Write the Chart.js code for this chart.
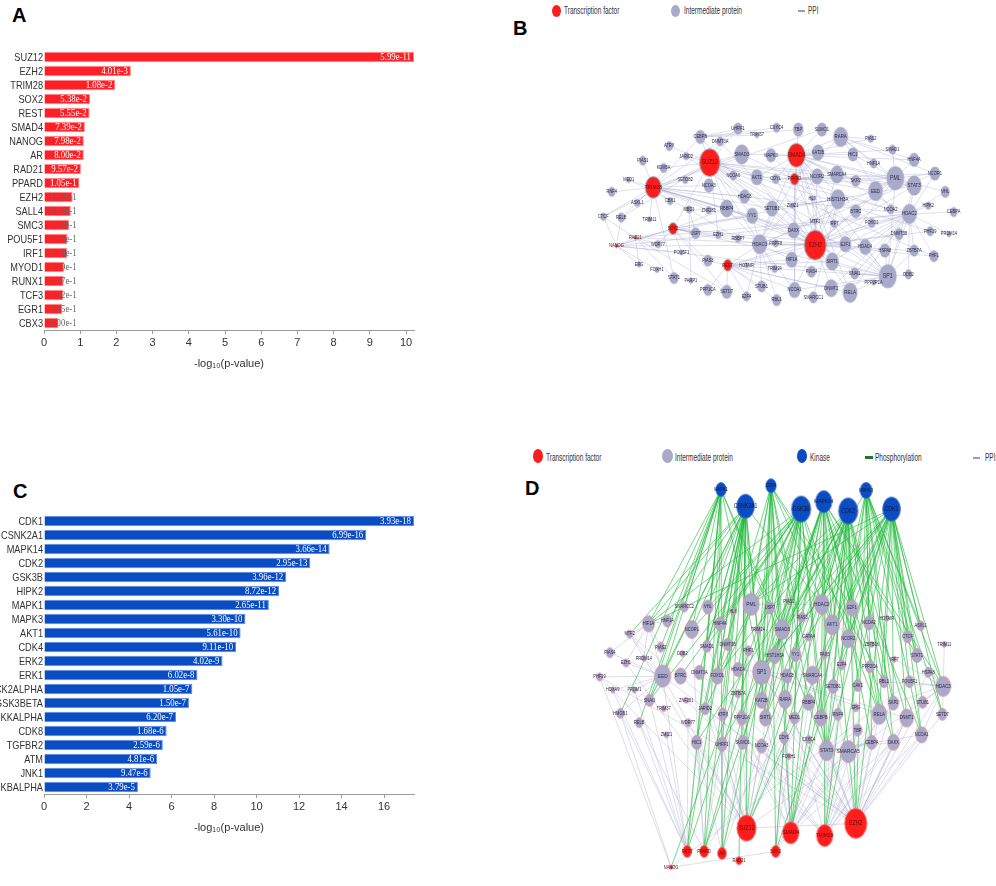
<!DOCTYPE html>
<html>
<head>
<meta charset="utf-8">
<script src="https://cdn.jsdelivr.net/npm/chart.js@4.4.0/dist/chart.umd.min.js"></script>
<style>
body{margin:0;background:#fff;width:996px;height:886px;position:relative;overflow:hidden;font-family:'Liberation Sans',Arial,sans-serif}
canvas{position:absolute}
.tag{position:absolute;font-weight:bold;font-size:20px;line-height:20px;color:#000}
.leg{position:absolute;font-size:10px;line-height:10px;color:#333;white-space:nowrap;transform:scaleX(0.65);transform-origin:left center}
.dot{position:absolute;border-radius:50%}
.dash{position:absolute;height:2px}
</style>
</head>
<body>
<div class="tag" style="left:12px;top:5px">A</div>
<div class="tag" style="left:513px;top:18px">B</div>
<div class="tag" style="left:13px;top:481px">C</div>
<div class="tag" style="left:525px;top:478px">D</div>

<div class="dot" style="left:552px;top:5px;width:9px;height:12px;background:#fe1d1d"></div>
<div class="leg" style="left:564px;top:6px">Transcription factor</div>
<div class="dot" style="left:671px;top:5px;width:9px;height:12px;background:#a9a9c9"></div>
<div class="leg" style="left:684px;top:6px">Intermediate protein</div>
<div class="dash" style="left:798px;top:10px;width:7px;background:#9a9ac0"></div>
<div class="leg" style="left:808px;top:6px">PPI</div>

<div class="dot" style="left:533px;top:449px;width:10px;height:14px;background:#fe1d1d"></div>
<div class="leg" style="left:546px;top:453px">Transcription factor</div>
<div class="dot" style="left:662px;top:449px;width:11px;height:14px;background:#a9a9c9"></div>
<div class="leg" style="left:675px;top:453px">Intermediate protein</div>
<div class="dot" style="left:797px;top:449px;width:10px;height:14px;background:#0b4cc0"></div>
<div class="leg" style="left:810px;top:453px">Kinase</div>
<div class="dash" style="left:865px;top:456px;width:8px;height:3px;background:#1a7a2a"></div>
<div class="leg" style="left:875px;top:453px">Phosphorylation</div>
<div class="dash" style="left:973px;top:457px;width:7px;background:#9a9ac0"></div>
<div class="leg" style="left:985px;top:453px">PPI</div>

<canvas id="chartA" width="440" height="335" style="left:0;top:40px"></canvas>
<canvas id="chartC" width="440" height="339" style="left:0;top:500px"></canvas>
<canvas id="netB" width="516" height="360" style="left:480px;top:0"></canvas>
<canvas id="netD" width="516" height="446" style="left:480px;top:440px"></canvas>

<script>
// ---- panel A: transcription factors ----
const tfNames = ["SUZ12","EZH2","TRIM28","SOX2","REST","SMAD4","NANOG","AR","RAD21","PPARD",
  "EZH2","SALL4","SMC3","POU5F1","IRF1","MYOD1","RUNX1","TCF3","EGR1","CBX3"];
const tfValues = [10.22,2.40,1.97,1.27,1.26,1.13,1.10,1.10,1.02,0.98,
  0.79,0.74,0.69,0.65,0.64,0.55,0.54,0.53,0.50,0.40];
const tfPvalues = ["5.99e-11","4.01e-3","1.08e-2","5.38e-2","5.55e-2","7.39e-2","7.98e-2","8.00e-2","9.57e-2","1.05e-1",
  "1.62e-1","1.83e-1","2.02e-1","2.25e-1","2.28e-1","2.79e-1","2.87e-1","2.92e-1","3.15e-1","4.00e-1"];

// ---- panel C: kinases ----
const kinNames = ["CDK1","CSNK2A1","MAPK14","CDK2","GSK3B","HIPK2","MAPK1","MAPK3","AKT1","CDK4",
  "ERK2","ERK1","CK2ALPHA","GSK3BETA","IKKALPHA","CDK8","TGFBR2","ATM","JNK1","IKBALPHA"];
const kinValues = [17.41,15.16,13.44,12.53,11.40,11.06,10.58,9.48,9.25,9.04,
  8.40,7.22,6.98,6.82,6.21,5.77,5.59,5.32,5.02,4.42];
const kinPvalues = ["3.93e-18","6.99e-16","3.66e-14","2.95e-13","3.96e-12","8.72e-12","2.65e-11","3.30e-10","5.61e-10","9.11e-10",
  "4.02e-9","6.02e-8","1.05e-7","1.50e-7","6.20e-7","1.68e-6","2.59e-6","4.81e-6","9.47e-6","3.79e-5"];

// ---- panel B: network nodes "name x y r" (x,y in figure pixels) ----
const bNodes = [
  "CEBPB 698 133 7","DNMT3A 719 138 5","ATRX 665 143 5","JARID2 683 154 4","SUZ12 708 161 14",
  "PIAS1 637 159 5","KDM5A 659 167 5","MED1 622 180 3","SETDB2 682 180 4","NCOA3 707 186 7",
  "TRIM28 648 188 11","RNF4 604 193 5","NCOA6 733 175 5","UHRF1 738 124 6","TRIM37 758 131 3",
  "CXXC4 779 123 5","TBP 802 125 7","SUMO1 827 125 7","RARA 847 133 10","PIAS2 879 135 4",
  "SMAD1 902 147 5","SMAD3 742 152 10","MAPK3 773 153 7","SMAD4 800 153 12","KAT2B 823 150 8",
  "HIC1 860 152 7","HNF4A 925 158 7","HNF1A 882 162 5","AKT1 758 177 8","CDYL 778 179 5",
  "PPARD 798 179 6","NCOR2 822 176 8","SMARCA4 843 174 9","SKP2 863 181 6","PML 905 178 12",
  "STAT3 925 186 10","NCOR1 947 173 7","EED 884 192 10","VHL 958 193 6","HDAC8 745 198 7",
  "ASXL1 631 205 4","CBX1 666 203 4","RBBP4 726 211 9","YY1 753 219 8","CTCF 595 220 4",
  "RELB 614 221 5","TRIM11 644 223 3","MBD1 686 212 4","ZNF281 707 213 4","SOX2 669 233 6",
  "USP7 693 238 6","EZH1 717 240 4","RBBP7 738 244 4","RAD21 629 243 2","NANOG 609 252 2",
  "WDR77 653 250 4","POU5F1 678 259 3","PIAS3 706 268 6","REST 727 273 6","HOTAIR 747 273 3",
  "ERG 633 272 3","FOXH1 652 278 3","STAT1 670 287 6","PARP1 688 290 3","PPP1CA 706 300 6",
  "SETD7 726 302 7","E2F4 747 307 5","SETDB1 774 211 8","ZMIZ1 796 208 3","HLX 817 200 3",
  "HIST1H3A 844 201 10","BTRC 863 214 7","NCOA2 900 212 5","HDAC2 920 217 10","HIPK2 940 208 4",
  "CEBPA 967 215 5","MTF2 820 225 3","IRF7 840 228 4","FOXO1 880 227 5","DAXX 797 235 8",
  "DNMT3B 909 239 6","PHF19 942 236 5","PRDM14 962 239 3","HDAC3 761 250 10","PRPF8 778 249 4",
  "EZH2 820 251 15","E2F1 852 250 8","HDAC4 873 253 8","HSPA8 894 257 7","ZBTB7A 925 257 6",
  "PHF1 946 263 6","HIF1A 795 267 8","TRIM24 777 277 4","SIRT1 838 269 9","PIAS4 816 280 6",
  "SNAI1 862 282 6","SP1 897 285 12","DDB2 919 283 5","PPP2R1A 882 292 3","STUB1 763 296 6",
  "NCOA1 798 300 8","DNMT1 837 298 9","RELA 857 303 10","RBL1 779 311 6","SMARCC1 818 308 6"
];
const bTFs = ["SUZ12","TRIM28","SMAD4","PPARD","EZH2","SOX2","REST","RAD21","NANOG"];
const bPPI = [
  "EZH2|SUZ12 EED HDAC2 HDAC3 DNMT1 DNMT3B DNMT3A YY1 SIRT1 E2F1 HDAC4 RBBP4 SETDB1 DAXX HIF1A STAT3 PML SP1 RELA NCOA1 MTF2 PHF1 PHF19 JARID2 HLX SMARCA4 AKT1 CDYL NCOR2 EZH1 HIST1H3A FOXO1 ZBTB7A BTRC",
  "SUZ12|EED EZH1 JARID2 RBBP4 YY1 HDAC3 CEBPB DNMT3A NCOA3 KDM5A ATRX MTF2 PHF19 PHF1 SMAD3 UHRF1 HDAC8 SETDB1 AKT1 CTCF RELB PML HDAC2 SP1 STAT3",
  "SMAD4|SMAD3 SMAD1 KAT2B MAPK3 TBP SUMO1 RARA HIC1 SKP2 NCOR2 SMARCA4 AKT1 CDYL E2F1 SP1 HDAC3 HDAC2 PML STAT3 RELA DAXX NCOA1 SIRT1 EZH2 PIAS2 HNF4A FOXO1",
  "TRIM28|SETDB2 SETDB1 KDM5A CBX1 RNF4 MED1 NCOA3 ZNF281 RBBP4 HDAC8 TRIM11 ASXL1 SUMO1 PIAS1 CEBPB UHRF1 SMAD3 E2F1 HDAC2 EZH2 DAXX STAT1 RELB CTCF YY1",
  "SOX2|POU5F1 NANOG WDR77 USP7 EZH1 SETD7 PIAS3 STAT3 HDAC3 RBBP4 YY1 SUZ12 SP1 E2F1",
  "REST|HOTAIR PIAS3 SETD7 PPP1CA E2F4 STUB1 RBL1 HDAC3 HDAC2 SIRT1 DNMT1 NCOA1 EZH2 RELA SP1 HIF1A",
  "PPARD|NCOR2 NCOR1 SMARCA4 KAT2B AKT1 CDYL MAPK3 SMAD3 RARA HDAC3 SIRT1 PML SP1 STAT3 NCOA2 NCOA1",
  "NANOG|POU5F1 RAD21 ERG FOXH1 RELB CTCF SOX2 EZH2 SP1 HDAC2",
  "RAD21|CTCF STAT1 SETD7 ERG WDR77 YY1 EZH2 HDAC2",
  "HDAC2|SP1 RELA SIRT1 DNMT1 E2F1 NCOR1 STAT3 HDAC4 FOXO1 ZBTB7A PHF1 DDB2 SNAI1 VHL CEBPA HIPK2 PRDM14",
  "PML|SP1 STAT3 NCOR1 VHL HNF4A SMAD1 SKP2 EED HIC1 RARA SIRT1 DAXX",
  "SP1|RELA DNMT1 SIRT1 SNAI1 HDAC4 PPP2R1A HSPA8 DDB2 ZBTB7A E2F1 STAT3 NCOA1",
  "HDAC3|NCOR2 NCOR1 YY1 RBBP4 DAXX HIF1A STUB1 TRIM24 PRPF8 E2F4 RBL1 SETDB1 NCOA1",
  "CEBPB|TBP UHRF1 CXXC4 TRIM37 NCOA6",
  "RARA|NCOR1 HNF4A NCOA2 PIAS2 HNF1A",
  "HIST1H3A|DAXX SETDB1 ZMIZ1 MTF2 IRF7 SMARCC1",
  "MBD1|ZNF281 RBBP7 MED1 USP7 PARP1"
];

// ---- panel D: network nodes "name x y r" ----
const dNodes = [
  "MAPK1 720 477 7","CSNK2A1 746 495 12","CDK4 773 473 7","GSK3B 805 498 13","MAPK14 829 490 11",
  "CDK2 855 500 13","MAPK3 874 478 8","CDK1 901 498 12",
  "SMARCC2 681 603 5","VHL 706 603 7","HLX 733 608 3","PML 752 600 11","USP7 772 604 6",
  "PIAS1 792 597 3","HDAC2 827 600 10","E2F1 859 604 8","HIF1A 643 621 8","HNF1A 663 618 6",
  "NCOR1 689 627 9","HNF4A 719 621 7","TRIM24 759 627 4","SMAD3 785 627 10","PIAS3 806 614 5",
  "AKT1 838 622 10","NCOA2 877 620 7","HOTAIR 896 615 3","ASXL1 932 623 5","MTF2 623 632 4",
  "GATA4 813 635 4","NCOR2 855 637 9","CTCF 918 635 6","SMAD1 705 645 6","DNMT3B 727 643 6",
  "DDB2 679 653 3","ZBTB16 880 643 3","PIAS4 602 652 5","PIAS2 656 646 5","PHF1 749 650 5",
  "HIST1H3A 777 655 8","YY1 799 654 7","PAX5 830 654 4","STAT1 928 655 7","TRIM11 957 643 3",
  "EZH1 619 663 4","PRDM14 638 658 3","E2F4 848 665 5","IRF7 904 659 3","PHF19 591 678 4",
  "EED 658 677 11","BTRC 677 677 8","DNMT3A 697 673 7","FOXO1 716 677 8","HDAC4 738 670 7",
  "SP1 763 673 12","HDAC8 790 677 7","SMARCA4 817 676 9","PPP2CA 878 667 6","SETDB1 839 688 7",
  "CAV1 865 687 6","RBL1 893 683 6","POU5F1 920 683 6","HDAC3 956 688 10","HSPA8 940 673 5",
  "HOXA9 605 692 3","PRDM1 628 692 3","ZBTB7A 738 696 4","SNAI1 644 703 6","ZNF281 683 703 3",
  "KAT2B 763 703 8","RARA 788 702 9","RBBP4 813 705 8","SKP2 903 706 7","STUB1 934 705 6",
  "ERG 863 711 4","HMGB1 613 717 5","TRIM37 659 712 3","JARID2 703 712 6","ATRX 722 718 6",
  "PPP1CA 742 722 7","SIRT1 767 722 8","MED1 798 722 6","CEBPB 826 722 8","RNF4 844 718 6",
  "RELA 888 718 10","DNMT1 917 722 9","SETD7 955 718 6","RELB 633 727 5","WDR77 685 727 4",
  "ZMIZ1 662 740 3","HIC1 694 748 7","UHRF1 721 750 7","SUMO1 743 748 7","NCOA3 763 752 7",
  "CDYL 787 743 6","CXXC4 813 745 4","STAT3 832 757 10","SMARCA5 855 758 11","TBP 865 735 6",
  "CEBPA 880 748 7","DAXX 903 748 8","NCOA1 933 740 8","FOXH1 792 763 3",
  "SUZ12 747 840 13","SMAD4 794 845 11","TRIM28 830 848 11","EZH2 863 835 15","REST 684 865 6",
  "PPARD 702 865 6","AR 721 867 6","SOX2 778 865 6","RAD21 739 875 4","NANOG 667 882 2"
];
const dTFs = ["SUZ12","SMAD4","TRIM28","EZH2","REST","PPARD","AR","SOX2","RAD21","NANOG"];
const dKinases = ["MAPK1","CSNK2A1","CDK4","GSK3B","MAPK14","CDK2","MAPK3","CDK1"];
const dPhospho = [
  "CDK1|PML HDAC2 E2F1 AKT1 NCOR2 SMAD3 SP1 YY1 HIST1H3A SMARCA4 RBL1 POU5F1 STAT1 CTCF ASXL1 HDAC3 STAT3 RELA SKP2 DNMT1 EZH2 SUZ12 SOX2 TRIM28 E2F4 STUB1 NCOA1 SETD7 HIF1A",
  "CDK2|PML HDAC2 E2F1 AKT1 NCOR2 SMAD3 SP1 RBL1 E2F4 SKP2 CDYL STAT3 EZH2 SMAD4 SUZ12 RELA DNMT1 CEBPB NCOA3 HIC1 UHRF1 SIRT1 CAV1 SETDB1 FOXO1",
  "GSK3B|SMAD3 SMAD1 HIF1A PML AKT1 NCOR1 BTRC SNAI1 FOXO1 CEBPB RELA STAT3 SIRT1 MED1 SUMO1 SOX2 SMAD4 REST NANOG AR PPARD HNF4A VHL JARID2",
  "MAPK14|SP1 STAT1 STAT3 HDAC3 CEBPB CEBPA RELA E2F1 AKT1 YY1 HIST1H3A SMAD3 KAT2B RARA SIRT1 TRIM28 SMAD4 EZH2 DAXX NCOA1 PPARD",
  "CSNK2A1|PML HDAC2 SP1 HNF1A HIF1A NCOR1 VHL HNF4A DNMT3A FOXO1 EED SNAI1 ATRX JARID2 PPP1CA SIRT1 UHRF1 HIC1 SUMO1 SUZ12 REST PPARD AR RAD21 MTF2 SMAD1 DNMT3B",
  "MAPK1|HIF1A SMARCC2 NCOR1 SMAD1 PIAS2 EED SNAI1 HMGB1 RELB HIC1 STAT3 SP1 SMAD3 FOXO1 REST AR PPARD",
  "MAPK3|STAT1 STAT3 ASXL1 CTCF SKP2 RELA DAXX NCOA1 SETD7 HDAC3 SP1 EZH2 TRIM28 SMAD4 CEBPA NCOA2",
  "CDK4|RBL1 E2F1 SMAD3 PML SP1 KAT2B RARA STAT3 SUZ12 SMAD4 SOX2 RBBP4 SIRT1 HDAC4 AKT1 FOXO1"
];
const dPPI = [
  "EZH2|SUZ12 EED HDAC2 HDAC3 DNMT1 DNMT3B YY1 SIRT1 E2F1 RBBP4 DAXX STAT3 SP1 RELA NCOA1 PHF1 PHF19 MTF2 JARID2 CEBPA DNMT3A SETD7 HSPA8 STUB1 SKP2",
  "SUZ12|EED EZH1 JARID2 RBBP4 YY1 HDAC3 DNMT3A MTF2 PHF19 PHF1 UHRF1 SMAD3 HIC1 NCOA3 SUMO1 CDYL ATRX",
  "SMAD4|SMAD3 SMAD1 KAT2B SKP2 CDYL STAT3 SP1 HDAC2 DAXX RELA TBP SUMO1 CEBPB",
  "TRIM28|SETDB1 RNF4 MED1 NCOA3 ZNF281 SUMO1 STAT3 CEBPA TBP DAXX NCOA1 RELA DNMT1",
  "REST|HOXA9 HMGB1 RELB WDR77 HIC1 ZMIZ1 SNAI1 PRDM1 EED",
  "NANOG|POU5F1 SOX2 HMGB1 PHF19",
  "PPARD|NCOR2 NCOR1 HIC1 UHRF1 RELB",
  "AR|HIC1 UHRF1 SUMO1 NCOA3 ATRX",
  "SOX2|STAT3 SMARCA5 CDYL FOXH1",
  "HDAC3|HSPA8 STAT1 POU5F1 STUB1 SETD7 NCOA1 RBL1 SKP2 IRF7 TRIM11",
  "EED|PHF19 PIAS4 HOXA9 PRDM1 EZH1 PRDM14 MTF2 SNAI1 HMGB1 HIF1A",
  "HIF1A|PIAS4 MTF2 PIAS2 HNF1A EZH1 PRDM14",
  "SP1|RELA SIRT1 HDAC4 KAT2B RARA DNMT1 SMARCA4",
  "HDAC2|PML SMAD3 AKT1 NCOR2 YY1 HIST1H3A",
  "STAT3|DAXX SMARCA5 CEBPA NCOA1 TBP CXXC4"
];

// ---------- helpers ----------
const axisFont = { family: "'Liberation Sans',Arial,sans-serif", size: 11 };

function parseNodes(rows) {
  return rows.map(row => {
    const p = row.split(' ');
    return { name: p[0], x: +p[1], y: +p[2], r: +p[3] };
  });
}

function parseLinks(rows, nodes) {
  const idx = {};
  nodes.forEach((n, i) => { idx[n.name] = i; });
  const out = [];
  rows.forEach(row => {
    const [hub, list] = row.split('|');
    list.split(' ').forEach(t => {
      if (idx[hub] === undefined || idx[t] === undefined) { console.warn('missing', hub, t); return; }
      out.push([idx[hub], idx[t]]);
    });
  });
  return out;
}

function nodeImage(r, fill, stroke) {
  const rx = Math.max(1.6, r * 0.74), ry = Math.max(1.8, r);
  const c = document.createElement('canvas');
  c.width = Math.ceil(rx * 2 + 3);
  c.height = Math.ceil(ry * 2 + 3);
  const g = c.getContext('2d');
  g.beginPath();
  g.ellipse(c.width / 2, c.height / 2, rx, ry, 0, 0, Math.PI * 2);
  g.fillStyle = fill;
  g.fill();
  if (stroke) { g.strokeStyle = stroke; g.lineWidth = 0.9; g.stroke(); }
  return c;
}

// narrow category names on the left, value labels at the end of each bar
const barText = {
  id: 'barText',
  afterDatasetsDraw(chart, args, opts) {
    const meta = chart.getDatasetMeta(0);
    const ctx = chart.ctx;
    const base = chart.scales.x.getPixelForValue(0);
    const ys = chart.scales.y;
    ctx.save();
    ctx.textBaseline = 'middle';

    ctx.font = '11.5px "Liberation Sans",Arial,sans-serif';
    ctx.fillStyle = '#333';
    ctx.textAlign = 'right';
    ys.getLabels().forEach((lab, i) => {
      ctx.save();
      ctx.translate(ys.right - 1, ys.getPixelForValue(i) + 0.5);
      ctx.scale(0.8, 1);
      ctx.fillText(lab, 0, 0);
      ctx.restore();
    });

    ctx.textAlign = 'left';
    ctx.font = '11px "Liberation Serif","Times New Roman",serif';
    meta.data.forEach((bar, i) => {
      const t = opts.texts[i];
      const w = ctx.measureText(t).width * 0.8;
      let x = bar.x - 3 - w;
      let fits = true;
      if (x < base + 6) { x = base + 6; fits = x + w <= bar.x - 1; }
      ctx.fillStyle = fits ? '#fff' : '#6a6a6a';
      ctx.save();
      ctx.translate(x, bar.y + 0.5);
      ctx.scale(0.8, 1);
      ctx.fillText(t, 0, 0);
      ctx.restore();
    });
    ctx.restore();
  }
};

// edges under the nodes, names on top of them
const netDraw = {
  id: 'netDraw',
  beforeDatasetsDraw(chart, args, opts) {
    const pts = chart.getDatasetMeta(0).data;
    const ctx = chart.ctx;
    ctx.save();
    opts.edgeSets.forEach(set => {
      ctx.strokeStyle = set.color;
      ctx.lineWidth = set.width;
      set.edges.forEach(([a, b]) => {
        ctx.beginPath();
        ctx.moveTo(pts[a].x, pts[a].y);
        ctx.lineTo(pts[b].x, pts[b].y);
        ctx.stroke();
      });
    });
    ctx.restore();
  },
  afterDatasetsDraw(chart, args, opts) {
    const pts = chart.getDatasetMeta(0).data;
    const ctx = chart.ctx;
    ctx.save();
    ctx.textAlign = 'center';
    ctx.textBaseline = 'middle';
    opts.nodes.forEach((n, i) => {
      const fs = Math.max(5, Math.min(6.5, n.r * 0.55));
      ctx.font = fs + 'px "Liberation Sans",Arial,sans-serif';
      ctx.fillStyle = opts.textColors[i];
      ctx.save();
      ctx.translate(pts[i].x, pts[i].y);
      ctx.scale(0.8, 1);
      ctx.fillText(n.name, 0, 0);
      ctx.restore();
    });
    ctx.restore();
  }
};

function barChart(id, labels, values, texts, color, edge, max, step, padTop) {
  return new Chart(document.getElementById(id), {
    type: 'bar',
    data: {
      labels: labels,
      datasets: [{
        data: values,
        backgroundColor: color,
        borderColor: edge,
        borderWidth: 1,
        barPercentage: 0.74,
        categoryPercentage: 1
      }]
    },
    options: {
      indexAxis: 'y',
      responsive: false,
      animation: false,
      events: [],
      layout: { padding: { top: padTop, right: 26, left: 0, bottom: 0 } },
      plugins: {
        legend: { display: false },
        tooltip: { enabled: false },
        barText: { texts: texts }
      },
      scales: {
        x: {
          min: 0,
          max: max,
          ticks: { stepSize: step, includeBounds: false, color: '#333', font: axisFont, padding: 2 },
          grid: { drawOnChartArea: false, tickLength: 4, color: '#9a9a9a' },
          border: { color: '#9a9a9a' },
          title: { display: true, text: '-log\u2081\u2080(p-value)', color: '#333', font: axisFont, padding: { top: 4, bottom: 4 } },
          afterFit: s => { s.height = 45; }
        },
        y: {
          grid: { display: false, drawTicks: false },
          border: { display: false },
          ticks: { display: false, autoSkip: false },
          afterFit: s => { s.width = 44; }
        }
      }
    },
    plugins: [barText]
  });
}

function network(id, rows, tfs, kinases, edgeSets, x0, x1, y0, y1, tfBorder, ipBorder) {
  const nodes = parseNodes(rows);
  const fills = [], images = [], textColors = [];
  nodes.forEach(n => {
    let fill = '#a9a9c9', stroke = ipBorder, tc = '#2a2a44';
    if (tfs.includes(n.name)) { fill = '#fe1d1d'; stroke = tfBorder; tc = '#6a0808'; }
    if (kinases.includes(n.name)) { fill = '#0b4cc0'; stroke = '#3f72d2'; tc = '#0a1846'; }
    fills.push(fill);
    images.push(nodeImage(n.r, fill, stroke));
    textColors.push(tc);
  });
  const sets = edgeSets.map(s => ({ color: s.color, width: s.width, edges: parseLinks(s.rows, nodes) }));
  return new Chart(document.getElementById(id), {
    type: 'bubble',
    data: {
      datasets: [{
        data: nodes.map(n => ({ x: n.x, y: n.y, r: n.r })),
        backgroundColor: fills,
        pointStyle: images,
        borderWidth: 0,
        clip: false
      }]
    },
    options: {
      responsive: false,
      animation: false,
      events: [],
      layout: { padding: 0 },
      plugins: {
        legend: { display: false },
        tooltip: { enabled: false },
        netDraw: { nodes: nodes, edgeSets: sets, textColors: textColors }
      },
      scales: {
        x: { type: 'linear', display: false, min: x0, max: x1 },
        y: { type: 'linear', display: false, min: y0, max: y1, reverse: true }
      }
    },
    plugins: [netDraw]
  });
}

barChart('chartA', tfNames, tfValues, tfPvalues, '#fe1f27', '#ff8c8c', 10.22, 1, 10);
barChart('chartC', kinNames, kinValues, kinPvalues, '#0a4cc2', '#5f8bdb', 17.41, 2, 14);

network('netB', bNodes, bTFs, [],
  [{ rows: bPPI, color: 'rgba(160,160,205,0.42)', width: 0.8 }],
  480, 996, 0, 360, '#7fe6e6', null);

network('netD', dNodes, dTFs, dKinases,
  [{ rows: dPPI, color: 'rgba(165,165,205,0.48)', width: 0.8 },
   { rows: dPhospho, color: 'rgba(28,185,55,0.6)', width: 1 }],
  480, 996, 440, 886, '#ff7070', 'rgba(228,140,168,0.9)');
</script>
</body>
</html>
